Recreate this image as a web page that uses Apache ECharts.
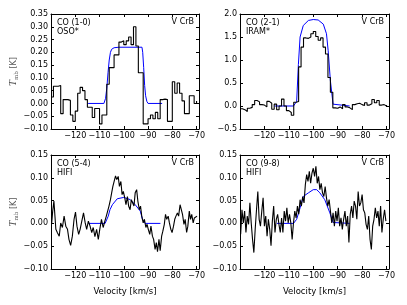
<!DOCTYPE html>
<html>
<head>
<meta charset="utf-8">
<script src="https://cdn.jsdelivr.net/npm/echarts@6/dist/echarts.min.js"></script>
<style>
html, body { margin: 0; padding: 0; background: #fff; }
#chart { width: 407px; height: 305px; }
</style>
</head>
<body>
<div id="chart"></div>
<script>
// CO (1-0) OSO, 1 km/s channels starting at -130
var osoStart = -130, osoWidth = 1.0;
var osoT = [0.025, 0.067, 0.067, 0.07, -0.04, 0.015, 0.015, 0.012, -0.045, -0.07,
            -0.03, 0.04, 0.063, 0.05, 0.015, -0.015, -0.015, -0.055, -0.02, -0.02,
            -0.08, -0.045, -0.045, 0.075, 0.14, 0.14, 0.19, 0.19, 0.24, 0.245,
            0.23, 0.245, 0.26, 0.23, 0.30, 0.225, 0.12, 0.12, -0.08, -0.08,
            -0.06, -0.045, -0.06, -0.035, -0.06, 0.015, 0.017, 0.015, -0.07, -0.07,
            0.085, 0.04, 0.08, 0.04, 0.01, -0.04, -0.04, 0.03, 0.03, 0.0, 0.01];

// CO (2-1) IRAM, 1 km/s channels starting at -130
var iramStart = -130, iramWidth = 1.0;
var iramT = [-0.06, -0.08, -0.12, -0.05, -0.03, 0.03, 0.12, 0.09, 0.03, 0.02,
             -0.02, 0.1, 0.06, -0.07, 0.04, -0.08, 0.0, 0.15, 0.0, -0.1,
             -0.14, -0.2, 0.08, 0.1, 0.85, 1.28, 1.48, 1.47, 1.5, 1.57,
             1.62, 1.51, 1.43, 1.48, 1.28, 1.13, 0.62, 0.3, -0.04, -0.05,
             -0.02, -0.06, 0.03, -0.02, -0.04, -0.08, 0.03, 0.05, 0.06, 0.03,
             0.01, 0.07, 0.02, 0.05, 0.14, 0.07, 0.12, 0.02, 0.03, 0.0, 0.02];

// CO (5-4) HIFI
var hifi54V = [-129.7, -129.3, -128.8, -128.0, -127.4, -126.6, -126.0, -125.3, -124.6, -123.9,
               -123.2, -122.6, -121.9, -121.2, -120.5, -119.9, -119.3, -118.6, -118.0, -117.3,
               -116.6, -115.9, -115.3, -114.6, -113.9, -113.2, -112.6, -111.9, -111.2, -110.5,
               -109.9, -109.2, -108.5, -107.8, -107.2, -106.6, -106.1, -105.5, -105.0, -104.5,
               -103.9, -103.4, -102.9, -102.3, -101.8, -101.2, -100.7, -100.2, -99.6, -99.1,
               -98.5, -98.0, -97.4, -96.9, -96.4, -95.8, -95.3, -94.7, -94.2, -93.6,
               -93.1, -92.6, -92.0, -91.5, -90.9, -90.4, -89.9, -89.3, -88.8, -88.2,
               -87.7, -87.1, -86.6, -86.1, -85.5, -85.0, -84.4, -83.9, -83.3, -82.8,
               -82.3, -81.7, -81.2, -80.6, -80.1, -79.5, -79.0, -78.5, -77.9, -77.4,
               -76.8, -76.3, -75.8, -75.2, -74.7, -74.1, -73.6, -73.0, -72.5, -72.0,
               -71.4, -70.9, -70.3, -69.8];
var hifi54T = [0.001, 0.027, 0.049, -0.013, -0.020, -0.028, 0.001, -0.009, 0.016, -0.006,
               -0.013, -0.035, -0.048, -0.028, 0.009, 0.025, -0.006, -0.024, -0.013, 0.005,
               0.023, 0.001, -0.013, 0.005, -0.006, -0.020, -0.009, -0.029, -0.013, -0.035,
               -0.013, 0.009, -0.009, 0.005, 0.016, 0.020, 0.038, 0.052, 0.067, 0.081,
               0.081, 0.104, 0.096, 0.103, 0.081, 0.092, 0.063, 0.070, 0.056, 0.041,
               0.059, 0.038, 0.030, 0.052, 0.049, 0.038, 0.067, 0.074, 0.049, 0.030,
               0.038, 0.016, 0.001, 0.009, -0.009, -0.002, -0.013, -0.024, -0.006, -0.028,
               -0.035, -0.057, -0.042, -0.062, -0.035, -0.060, -0.028, -0.017, -0.002, 0.020,
               0.009, 0.016, 0.001, -0.013, -0.020, -0.006, 0.009, 0.016, 0.023, 0.016,
               0.041, 0.038, 0.020, -0.002, 0.009, -0.020, -0.006, 0.027, 0.009, 0.020,
               0.001, 0.012, 0.009, 0.016];

// CO (9-8) HIFI, 0.54 km/s channels
var hifi98Start = -129.73, hifi98Width = 0.5405;
var hifi98T = [-0.024, 0.030, 0.001, 0.027, -0.020, 0.016, -0.002, 0.045, 0.001, -0.035,
               -0.064, -0.013, 0.030, 0.070, 0.009, -0.006, 0.027, 0.056, -0.006, 0.016,
               -0.028, 0.009, -0.013, -0.049, 0.005, 0.038, -0.020, 0.009, 0.020, -0.002,
               -0.020, 0.012, -0.020, 0.027, 0.005, 0.034, 0.001, 0.020, 0.001, -0.035,
               0.001, 0.027, 0.012, 0.038, 0.020, 0.052, 0.038, 0.059, 0.045, 0.085,
               0.107, 0.092, 0.114, 0.088, 0.110, 0.121, 0.103, 0.125, 0.088, 0.103,
               0.074, 0.088, 0.067, 0.059, 0.081, 0.056, 0.038, 0.052, 0.027, 0.001,
               0.023, -0.006, 0.027, 0.005, 0.034, -0.006, 0.012, -0.013, 0.009, 0.027,
               -0.006, 0.016, -0.042, 0.020, 0.038, 0.012, 0.049, 0.038, 0.009, 0.070,
               0.038, 0.045, 0.063, 0.030, 0.023, -0.002, -0.013, 0.016, -0.035, -0.057,
               -0.006, 0.009, 0.034, 0.012, 0.027, -0.006, 0.038, -0.020, 0.009, 0.030, 0.005];

// model fits (blue)
var fit10V = [-114.7, -108.2, -107.5, -107, -106.5, -106, -105.5, -105, -104, -102, -92.5, -92.2, -91.8, -91.4, -91, -90.5, -90, -84.2];
var fit10T = [0, 0, 0.02, 0.06, 0.12, 0.17, 0.2, 0.212, 0.218, 0.22, 0.22, 0.2, 0.14, 0.07, 0.03, 0.008, 0, 0];
var fit21V = [-115.8, -108.1, -107.5, -106.8, -106.1, -105.4, -104.1, -102, -100, -98, -95.9, -94.6, -93.9, -93, -91.9, -91.2, -85.1];
var fit21T = [0, 0, 0.02, 0.1, 0.9, 1.5, 1.75, 1.86, 1.88, 1.87, 1.78, 1.57, 1.2, 0.55, 0.04, 0, 0];
var fit54V = [-114.5, -107.7, -107.2, -106.4, -105.7, -104.7, -102.7, -100, -97.3, -95.3, -93.2, -92.3, -91.2, -84.9];
var fit54T = [0, 0, 0.002, 0.016, 0.03, 0.041, 0.054, 0.057, 0.052, 0.041, 0.027, 0.009, 0, 0];
var fit98V = [-114.9, -108.1, -106.8, -105.4, -104.1, -102, -100, -98.6, -97.3, -95.3, -93.2, -91.9, -91.2, -85.1];
var fit98T = [0, 0, 0.009, 0.034, 0.059, 0.067, 0.074, 0.074, 0.067, 0.052, 0.023, 0.002, 0, 0];

var lineNames = ['CO (1-0)', 'CO (2-1)', 'CO (5-4)', 'CO (9-8)'];
var telescopes = ['OSO*', 'IRAM*', 'HIFI', 'HIFI'];
var yRanges = [[-0.10, 0.35, 0.05], [-0.5, 2.0, 0.5], [-0.10, 0.15, 0.05], [-0.10, 0.15, 0.05]];
var yDecimals = [2, 1, 2, 2];

function pairs(v, t) {
    return v.map(function (x, i) { return [x, t[i]]; });
}
function gridPairs(start, width, t) {
    return t.map(function (y, i) { return [start + i * width, y]; });
}
function minus(s) { return s.replace('-', '\u2212'); }

var font = 'DejaVu Sans';
var grids = [
    { left: 51, top: 14, width: 148, height: 115 },
    { left: 240, top: 14, width: 149, height: 115 },
    { left: 51, top: 155, width: 148, height: 114 },
    { left: 240, top: 155, width: 149, height: 114 }
];
var frame = { onZero: false, lineStyle: { color: '#000', width: 1 } };
var tick = { inside: true, length: 3, lineStyle: { color: '#000' } };
var xAxes = [], yAxes = [], series = [], texts = [];

grids.forEach(function (g, i) {
    var xa = {
        type: 'value', gridIndex: i, min: -130, max: -69, interval: 10,
        axisLine: frame, axisTick: tick, splitLine: { show: false },
        axisLabel: {
            color: '#000', fontFamily: font, fontSize: 8, margin: 3,
            formatter: function (v) { return (v % 10 === 0 && v > -130) ? minus(String(v)) : ''; }
        }
    };
    if (i >= 2) {
        xa.name = 'Velocity [km/s]';
        xa.nameLocation = 'middle';
        xa.nameGap = 18;
        xa.nameTextStyle = { color: '#000', fontFamily: font, fontSize: 8.5 };
    }
    xAxes.push(xa);
    xAxes.push({
        type: 'value', gridIndex: i, position: 'top', min: -130, max: -69, interval: 10,
        axisLine: frame, axisTick: tick,
        axisLabel: { show: false }, splitLine: { show: false }
    });
    var r = yRanges[i];
    var ya = {
        type: 'value', gridIndex: i, min: r[0], max: r[1], interval: r[2],
        axisLine: frame, axisTick: tick, splitLine: { show: false },
        axisLabel: {
            color: '#000', fontFamily: font, fontSize: 8, margin: 3,
            formatter: function (v) { return minus(v.toFixed(yDecimals[i])); }
        }
    };
    if (i % 2 === 0) {
        ya.name = '{t|T}{s|mb} [K]';
        ya.nameLocation = 'middle';
        ya.nameRotate = 90;
        ya.nameGap = 31;
        ya.nameTextStyle = {
            color: '#555', fontFamily: font, fontSize: 8, lineHeight: 12,
            rich: {
                t: { fontFamily: 'DejaVu Serif', fontStyle: 'italic', fontSize: 9, color: '#555', lineHeight: 12 },
                s: { fontFamily: 'DejaVu Serif', fontSize: 5.5, color: '#555', verticalAlign: 'bottom', lineHeight: 8 }
            }
        };
    }
    yAxes.push(ya);
    yAxes.push({
        type: 'value', gridIndex: i, position: 'right', min: r[0], max: r[1], interval: r[2],
        axisLine: frame, axisTick: tick,
        axisLabel: { show: false }, splitLine: { show: false }
    });

    texts.push({ type: 'text', left: g.left + 6, top: g.top + 4,
        style: { text: lineNames[i] + '\n' + telescopes[i], fill: '#000', font: '8px "DejaVu Sans"', lineHeight: 9 } });
    texts.push({ type: 'text', right: 407 - (g.left + g.width) + 5, top: g.top + 4,
        style: { text: 'V CrB', fill: '#000', font: '8px "DejaVu Sans"' } });
});

var fits = [pairs(fit10V, fit10T), pairs(fit21V, fit21T), pairs(fit54V, fit54T), pairs(fit98V, fit98T)];
var spectra = [
    gridPairs(osoStart, osoWidth, osoT),
    gridPairs(iramStart, iramWidth, iramT),
    pairs(hifi54V, hifi54T),
    gridPairs(hifi98Start, hifi98Width, hifi98T)
];

for (var i = 0; i < 4; i++) {
    series.push({
        type: 'line', xAxisIndex: 2 * i, yAxisIndex: 2 * i, data: fits[i],
        showSymbol: false, symbol: 'none', silent: true, animation: false,
        lineStyle: { color: '#0000ff', width: 1 }
    });
    series.push({
        type: 'line', xAxisIndex: 2 * i, yAxisIndex: 2 * i, data: spectra[i],
        step: i < 2 ? 'end' : false,
        showSymbol: false, symbol: 'none', silent: true, animation: false,
        clip: true,
        lineStyle: { color: '#000', width: 1.1 }
    });
}

var myChart = echarts.init(document.getElementById('chart'), null, { renderer: 'canvas' });
myChart.setOption({
    animation: false,
    backgroundColor: '#fff',
    grid: grids,
    xAxis: xAxes,
    yAxis: yAxes,
    series: series,
    graphic: texts
});
</script>
</body>
</html>
